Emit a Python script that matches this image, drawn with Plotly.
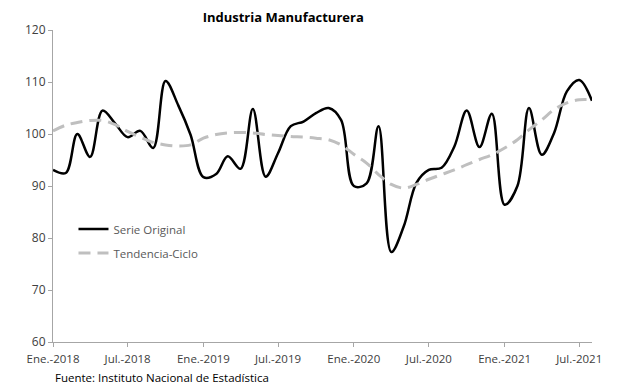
import plotly.graph_objects as go

months = [f"{y}-{m:02d}-01" for y in (2018, 2019, 2020, 2021) for m in range(1, 13)][:44]

serie_original = [
    93.1, 92.5, 100.0, 95.6, 104.5, 102.0, 99.4, 100.6, 97.3, 110.2, 105.5, 99.8,
    91.7, 92.3, 95.7, 93.3, 104.8, 91.8, 96.3, 101.5, 102.4, 104.0, 105.0, 102.7,
    90.0, 90.5, 101.5, 77.3, 82.2, 90.6, 93.1, 93.5, 97.6, 104.5, 97.5, 103.9,
    86.4, 90.0, 105.0, 96.0, 100.2, 108.2, 110.4, 106.4,
]

tendencia_ciclo = [
    100.6, 101.7, 102.2, 102.6, 102.6, 101.8, 100.5, 99.4, 98.4, 97.9, 97.7, 97.9,
    99.2, 99.9, 100.2, 100.3, 100.2, 99.9, 99.7, 99.5, 99.4, 99.2, 98.9, 97.9,
    96.1, 94.4, 92.2, 90.3, 89.6, 90.3, 91.3, 92.2, 93.1, 94.1, 95.1, 96.0,
    97.3, 98.9, 100.8, 102.7, 104.7, 106.0, 106.6, 106.6,
]

tick_vals = ["2018-01-01", "2018-07-01", "2019-01-01", "2019-07-01",
             "2020-01-01", "2020-07-01", "2021-01-01", "2021-07-01"]
tick_text = ["Ene.-2018", "Jul.-2018", "Ene.-2019", "Jul.-2019",
             "Ene.-2020", "Jul.-2020", "Ene.-2021", "Jul.-2021"]

FONT = "Open Sans"
TXT = "#404040"
LEG = "#595959"

fig = go.Figure()
fig.add_trace(go.Scatter(
    x=months, y=serie_original, name="Serie Original", mode="lines",
    line=dict(color="black", width=2.5, shape="spline", smoothing=1.0),
    legend="legend",
))
fig.add_trace(go.Scatter(
    x=months, y=tendencia_ciclo, name="Tendencia-Ciclo", mode="lines",
    line=dict(color="#BFBFBF", width=3, shape="spline", smoothing=1.0, dash="12px,7px"),
    legend="legend2",
))

leg_common = dict(xanchor="left", yanchor="middle", bgcolor="rgba(0,0,0,0)",
                  font=dict(family=FONT, size=11.5, color=LEG), itemwidth=30)

fig.update_layout(
    width=617, height=387,
    margin=dict(l=53, r=25, t=30, b=45, autoexpand=False),
    paper_bgcolor="white", plot_bgcolor="white",
    font=dict(family=FONT, size=12, color=TXT),
    title=dict(text="<b>Industria Manufacturera</b>", x=0.459, xanchor="center",
               y=0.955, yanchor="middle", font=dict(family=FONT, size=13, color="black")),
    showlegend=True,
    legend=dict(x=0.038, y=0.362, **leg_common),
    legend2=dict(x=0.038, y=0.285, **leg_common),
    xaxis=dict(
        type="date", range=["2018-01-01", "2021-08-01"],
        tickvals=tick_vals, ticktext=tick_text, automargin=False,
        showline=True, linecolor="#A6A6A6", linewidth=1,
        ticks="outside", ticklen=4, tickcolor="#A6A6A6",
        showgrid=False, zeroline=False, ticklabelstandoff=2,
        tickfont=dict(family=FONT, size=11.5, color=TXT),
    ),
    yaxis=dict(
        range=[60, 120], tickvals=[60, 70, 80, 90, 100, 110, 120], automargin=False,
        showline=True, linecolor="#A6A6A6", linewidth=1,
        ticks="outside", ticklen=4, tickcolor="#A6A6A6",
        showgrid=False, zeroline=False,
        tickfont=dict(family=FONT, size=12, color=TXT),
    ),
    annotations=[dict(
        text="Fuente: Instituto Nacional de Estadística",
        xref="paper", yref="paper", x=0.0, y=-0.115,
        xanchor="left", yanchor="middle", showarrow=False,
        font=dict(family=FONT, size=11.5, color="black"),
    )],
)

fig.write_html("out.html", config={"displayModeBar": False},
               post_script="document.body.style.margin='0';document.body.style.overflow='hidden';")
